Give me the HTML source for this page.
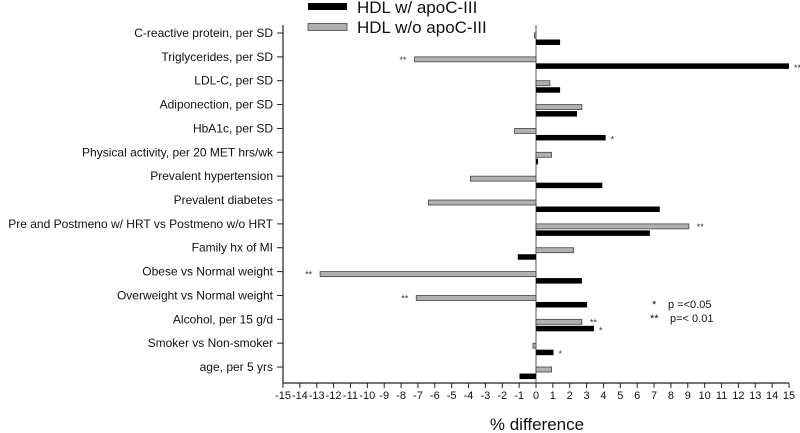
<!DOCTYPE html>
<html><head><meta charset="utf-8"><style>
body{margin:0;background:#fff;}
svg{display:block;font-family:"Liberation Sans",Arial,sans-serif;}
</style></head><body>
<svg id="chart" width="800" height="433"></svg>
<script>
const categories=["C-reactive protein, per SD","Triglycerides, per SD","LDL-C, per SD","Adiponection, per SD","HbA1c, per SD","Physical activity, per 20 MET hrs/wk","Prevalent hypertension","Prevalent diabetes","Pre and Postmeno w/ HRT vs Postmeno w/o HRT","Family hx of MI","Obese vs Normal weight","Overweight vs Normal weight","Alcohol, per 15 g/d","Smoker vs Non-smoker","age, per 5 yrs"];
const withApo=[1.43,15.0,1.43,2.43,4.13,0.12,3.93,7.34,6.75,-1.08,2.72,3.03,3.44,1.04,-0.98];
const withoutApo=[-0.1,-7.2,0.82,2.72,-1.27,0.92,-3.89,-6.38,9.06,2.23,-12.8,-7.1,2.72,-0.18,0.92];
const sigWith=["","**","","","*","","","","","","","","*","*",""];
const sigWithout=["","**","","","","","","","**","","**","**","**","",""];
const xTicks=[-15,-14,-13,-12,-11,-10,-9,-8,-7,-6,-5,-4,-3,-2,-1,0,1,2,3,4,5,6,7,8,9,10,11,12,13,14,15];

const NS="http://www.w3.org/2000/svg";
const svg=document.getElementById('chart');
function mk(t,a,parent){const e=document.createElementNS(NS,t);for(const k in a)e.setAttribute(k,a[k]);(parent||svg).appendChild(e);return e;}
const x0=283,x1=789,yTop=25,yAxis=383;
const xs=v=>x0+(v+15)/30*(x1-x0);
const ys=i=>33+i*23.86;

let e;
e=mk('line',{x1:x0,y1:yTop,x2:x0,y2:yAxis,stroke:'#222','stroke-width':1.2});


e=mk('line',{x1:x0,y1:yAxis,x2:x1,y2:yAxis,stroke:'#222','stroke-width':1.2});


e=mk('line',{x1:xs(0),y1:yTop,x2:xs(0),y2:yAxis,stroke:'#555','stroke-width':1});



xTicks.forEach(v=>{
  const t=mk('line',{x1:xs(v),y1:yAxis,x2:xs(v),y2:yAxis+5,stroke:'#222'});
  
  
  const l=mk('text',{x:xs(v),y:yAxis+16,'font-size':11,'text-anchor':'middle',fill:'#111'});
  l.textContent=String(v);
  
  
});

categories.forEach((c,i)=>{
  const y=ys(i);
  const t=mk('line',{x1:x0-6,y1:y,x2:x0,y2:y,stroke:'#222'});
  
  
  const l=mk('text',{x:x0-10,y:y+4,'font-size':12,'text-anchor':'end',fill:'#111'});
  l.textContent=c;
  
  
  const g=withoutApo[i],b=withApo[i];
  const gb=mk('rect',{x:Math.min(xs(0),xs(g)),y:y,width:Math.max(Math.abs(xs(g)-xs(0)),1.5),height:5,fill:'#b0b0b0',stroke:'#444','stroke-width':0.8});
  
  
  const bb=mk('rect',{x:Math.min(xs(0),xs(b)),y:y+6.5,width:Math.max(Math.abs(xs(b)-xs(0)),1.5),height:5.5,fill:'#000'});
  
  
  if(sigWithout[i]){
    const s=mk('text',{x:g<0?xs(g)-8:xs(g)+8,y:y+6,'font-size':9,'text-anchor':g<0?'end':'start',fill:'#333'});
    s.textContent=sigWithout[i];
    
    
  }
  if(sigWith[i]){
    const s=mk('text',{x:b<0?xs(b)-6:xs(b)+5,y:y+14,'font-size':9,'text-anchor':b<0?'end':'start',fill:'#333'});
    s.textContent=sigWith[i];
    
    
  }
});

e=mk('rect',{x:308,y:3,width:39,height:7,fill:'#000'});


e=mk('text',{x:357,y:13,'font-size':17,fill:'#111'});e.textContent='HDL w/ apoC-III';


e=mk('rect',{x:308,y:23.5,width:39,height:7,fill:'#b0b0b0',stroke:'#444','stroke-width':0.8});


e=mk('text',{x:357,y:33,'font-size':17,fill:'#111'});e.textContent='HDL w/o apoC-III';



e=mk('text',{x:652,y:308,'font-size':11,fill:'#111'});e.textContent='*';


e=mk('text',{x:668,y:308,'font-size':11,fill:'#111'});e.textContent='p =<0.05';


e=mk('text',{x:650,y:322,'font-size':11,fill:'#111'});e.textContent='**';


e=mk('text',{x:670,y:322,'font-size':11,fill:'#111'});e.textContent='p=< 0.01';



e=mk('text',{x:537,y:430,'font-size':17,'text-anchor':'middle',fill:'#111'});e.textContent='% difference';


</script>
</body></html>
